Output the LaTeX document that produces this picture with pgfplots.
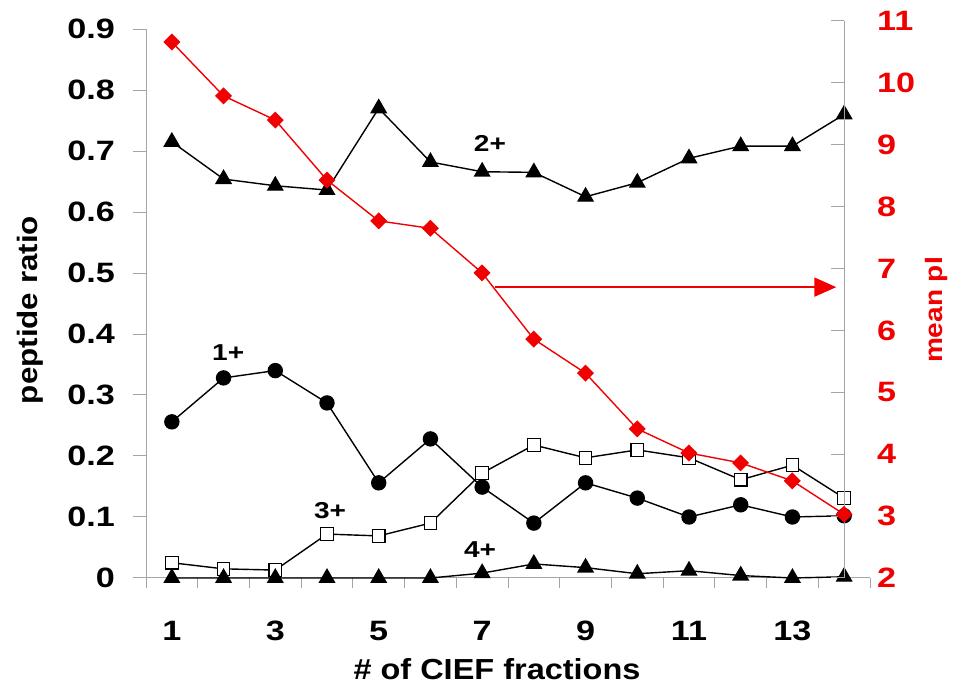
\documentclass[border=0pt]{standalone}
\usepackage{fontspec}
\setmainfont{Liberation Sans}
\newfontfamily\tickfont{Liberation Sans}[FakeStretch=1.22]
\newfontfamily\titlefont{Liberation Sans}[FakeStretch=1.12]
\usepackage{pgfplots}
\pgfplotsset{compat=1.18}
\usetikzlibrary{arrows.meta}
\definecolor{axgray}{RGB}{165,165,165}
\definecolor{pired}{RGB}{240,0,0}
\begin{document}
\begin{tikzpicture}
\begin{axis}[
  at={(146pt,109pt)}, anchor=south west,
  scale only axis, width=724pt, height=549pt,
  xmin=0.5, xmax=14.5, ymin=0, ymax=0.9,
  clip=false,
  axis x line*=bottom, axis y line*=left,
  axis line style={draw=axgray, line width=1pt, -},
  every tick/.style={draw=axgray, line width=1pt},
  tick align=outside,
  major tick length=13pt, minor tick length=10pt,
  xtick={1,3,5,7,9,11,13},
  minor xtick={0.5,1.5,2.5,3.5,4.5,5.5,6.5,7.5,8.5,9.5,10.5,11.5,12.5,13.5,14.5},
  every major x tick/.style={draw=none},
  ytick={0,0.1,0.2,0.3,0.4,0.5,0.6,0.7,0.8,0.9},
  yticklabels={0,0.1,0.2,0.3,0.4,0.5,0.6,0.7,0.8,0.9},
  /pgf/number format/assume math mode=true,
  xticklabel style={font=\tickfont\fontsize{28}{28}\selectfont\bfseries, anchor=base, inner sep=0pt, yshift=-49pt},
  yticklabel style={font=\tickfont\fontsize{28}{28}\selectfont\bfseries, anchor=east, inner sep=0pt, xshift=-18pt},
]
\addplot[black, line width=1.4pt, mark=triangle*, mark size=8.5pt, mark options={solid, fill=black}]
  coordinates {(1,0.715)(2,0.654)(3,0.643)(4,0.636)(5,0.770)(6,0.682)(7,0.666)(8,0.665)(9,0.625)(10,0.648)(11,0.688)(12,0.708)(13,0.708)(14,0.760)};
\addplot[black, line width=1.4pt, mark=*, mark size=7pt, mark options={solid, fill=black}]
  coordinates {(1,0.256)(2,0.328)(3,0.340)(4,0.287)(5,0.156)(6,0.228)(7,0.149)(8,0.090)(9,0.156)(10,0.131)(11,0.100)(12,0.120)(13,0.100)(14,0.102)};
\addplot[black, line width=1.4pt, mark=square*, mark size=6.3pt, mark options={solid, fill=white, line width=1.2pt}]
  coordinates {(1,0.025)(2,0.015)(3,0.013)(4,0.072)(5,0.069)(6,0.090)(7,0.172)(8,0.218)(9,0.197)(10,0.210)(11,0.197)(12,0.161)(13,0.185)(14,0.131)};
\addplot[black, line width=1.4pt, mark=triangle*, mark size=8.5pt, mark options={solid, fill=black}]
  coordinates {(1,0)(2,0)(3,0)(4,0)(5,0)(6,0)(7,0.008)(8,0.023)(9,0.017)(10,0.007)(11,0.012)(12,0.004)(13,0)(14,0.002)};
\node[font=\tickfont\fontsize{23}{23}\selectfont\bfseries] at (axis cs:7.15,0.713) {2+};
\node[font=\tickfont\fontsize{23}{23}\selectfont\bfseries] at (axis cs:2.09,0.369) {1+};
\node[font=\tickfont\fontsize{23}{23}\selectfont\bfseries] at (axis cs:4.06,0.111) {3+};
\node[font=\tickfont\fontsize{23}{23}\selectfont\bfseries] at (axis cs:6.96,0.046) {4+};
\end{axis}
\begin{axis}[
  at={(146pt,109pt)}, anchor=south west,
  scale only axis, width=698pt, height=557pt,
  xmin=0.5, xmax=14, ymin=2, ymax=11,
  clip=false,
  axis x line=none, axis y line*=right,
  axis line style={draw=axgray, line width=1pt, -},
  every tick/.style={draw=axgray, line width=1pt},
  tick align=inside, major tick length=13pt,
  ytick={2,3,4,5,6,7,8,9,10,11},
  /pgf/number format/assume math mode=true,
  yticklabel style={font=\tickfont\fontsize{28}{28}\selectfont\bfseries, text=pired, anchor=west, inner sep=0pt, xshift=33pt},
]
\addplot[pired, line width=1.4pt, mark=square*, mark size=5.3pt, mark options={solid, fill=pired, rotate=45}]
  coordinates {(1,10.66)(2,9.79)(3,9.40)(4,8.43)(5,7.77)(6,7.65)(7,6.93)(8,5.86)(9,5.31)(10,4.41)(11,4.02)(12,3.86)(13,3.57)(14,3.03)};
\draw[pired, line width=2pt, -{Triangle[length=22pt,width=19pt]}] (axis cs:7.25,6.70) -- (axis cs:13.85,6.70);
\end{axis}
\node[rotate=90, font=\titlefont\fontsize{28}{28}\selectfont\bfseries] at (30pt,377pt) {peptide ratio};
\node[anchor=base, font=\titlefont\fontsize{29}{29}\selectfont\bfseries] at (497pt,7pt) {\# of CIEF fractions};
\node[rotate=90, font=\titlefont\fontsize{25}{25}\selectfont\bfseries, text=pired] at (936pt,377pt) {mean pI};
\pgfresetboundingbox
\path (0pt,0pt) rectangle (960pt,687pt);
\end{tikzpicture}
\end{document}
